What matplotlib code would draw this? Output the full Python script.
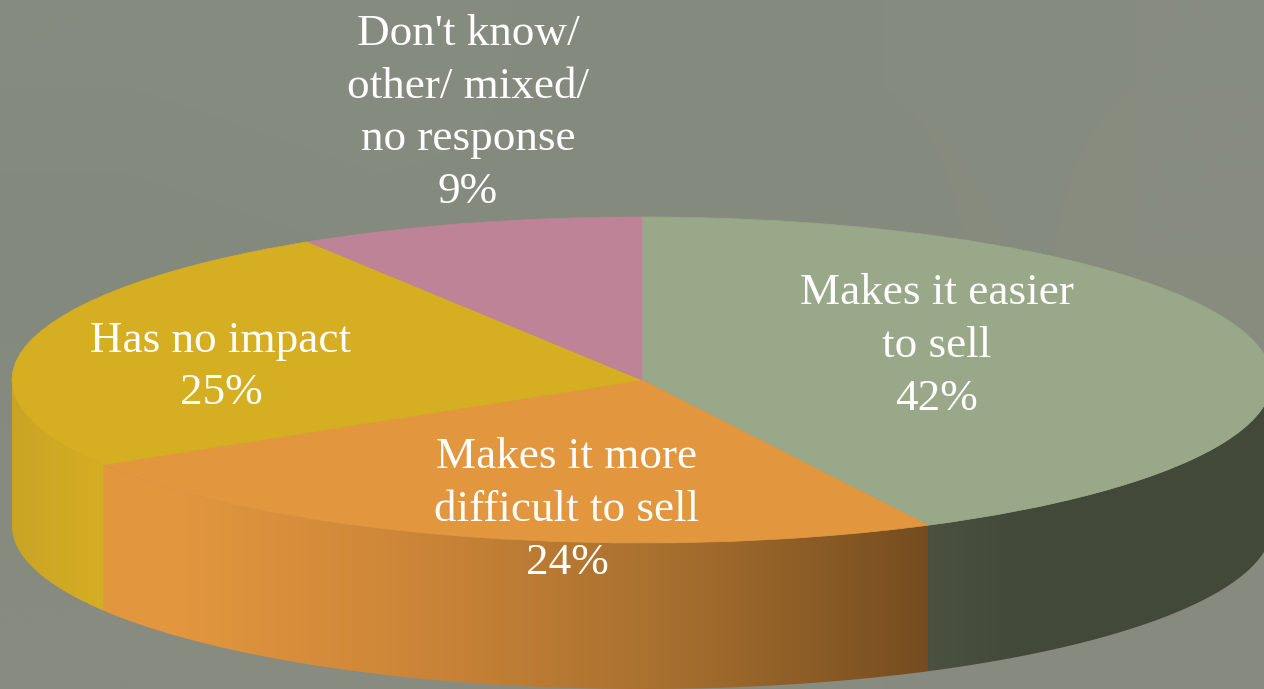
import numpy as np
import matplotlib
matplotlib.use('Agg')
import matplotlib.pyplot as plt
from matplotlib.colors import LinearSegmentedColormap, to_rgb
from matplotlib.patches import Polygon

labels = ['Makes it easier\nto sell\n42%',
          'Makes it more\ndifficult to sell\n24%',
          'Has no impact\n25%',
          "Don't know/\nother/ mixed/\nno response\n9%"]
# slice sizes as drawn, the printed labels are rounded
values = [42.5, 23.8, 24.8, 8.9]
colors = ['#99A888', '#E2963E', '#D6AE22', '#BF8398']

# pixel geometry of the flattened disc
W, H = 1264, 689
cx, cy = 642, 380
rx, ry = 630, 163
depth = 146

# colour stops along the side walls, x in pixels
wall_stops = [
    [(928, '#4B5241'), (1010, '#444A39'), (1272, '#434938')],
    [(103, '#E2963E'), (180, '#E2963E'), (420, '#CC8538'), (680, '#A56E2E'), (928, '#744C1F')],
    [(12, '#C9A324'), (60, '#D0A924'), (103, '#D6AE22')],
]

# background tint on a coarse grid
bg_tint = [['#858B7F', '#878C80', '#858A7E', '#868B7F', '#878C80'],
           ['#83897D', '#858A7E', '#868B7F', '#858A7E', '#888D80'],
           ['#858B7F', '#868B7F', '#878B7F', '#878B7F', '#888B7F'],
           ['#888B7F', '#888C80', '#898C80', '#888B7F', '#878A7E']]


def px_x(x):
    return (x - cx) / rx


def px_y(y):
    return (cy - y) / ry


fig = plt.figure(figsize=(W / 100, H / 100), dpi=100)
ax = fig.add_axes([0, 0, 1, 1])
extent = [px_x(0), px_x(W), px_y(H), px_y(0)]

bg = np.array([[to_rgb(c) for c in row] for row in bg_tint])
ax.imshow(bg, extent=extent, aspect='auto', interpolation='bilinear', zorder=0)

# side walls of the front half
edges = 90 - 360 * np.cumsum([0] + values) / sum(values)
d = depth / ry
for i, stops in enumerate(wall_stops):
    a0, a1 = np.radians(edges[i]), np.radians(edges[i + 1])
    a0, a1 = min(a0, 0), max(a1, -np.pi)
    t = np.linspace(a0, a1, 200)
    xs, ys = np.cos(t), np.sin(t)
    outline = np.r_[np.c_[xs, ys], np.c_[xs, ys - d][::-1]]
    wall = Polygon(outline, closed=True, transform=ax.transData, fc='none', ec='none')
    ax.add_patch(wall)
    lo, hi = stops[0][0], stops[-1][0]
    cmap = LinearSegmentedColormap.from_list(
        'wall', [((p - lo) / (hi - lo), c) for p, c in stops], N=1024)
    grad = np.linspace(0, 1, 1024)[None, :]
    # image runs a little past the wall so its edge does not show as a dark seam
    im = ax.imshow(grad, cmap=cmap, aspect='auto', interpolation='nearest',
                   extent=[px_x(lo - 4), px_x(hi + 4), px_y(H), px_y(0)], zorder=1)
    im.set_clip_path(wall)

# top face
wedges, _ = ax.pie(values, colors=colors, startangle=90, counterclock=False, radius=1,
                   wedgeprops={'linewidth': 0.5, 'zorder': 2})
for w in wedges:
    w.set_edgecolor(w.get_facecolor())
ax.set_aspect('auto')
ax.set_xlim(extent[0], extent[1])
ax.set_ylim(extent[2], extent[3])
ax.axis('off')

label_pos = [(937, 346), (567, 510), (221, 367), (468, 113)]
for text, (x, y) in zip(labels, label_pos):
    ax.text(px_x(x), px_y(y), text, ha='center', va='center', color='white',
            fontsize=32.5, family='Liberation Serif', linespacing=1.41, zorder=3)

fig.savefig('out.png', dpi=100)
